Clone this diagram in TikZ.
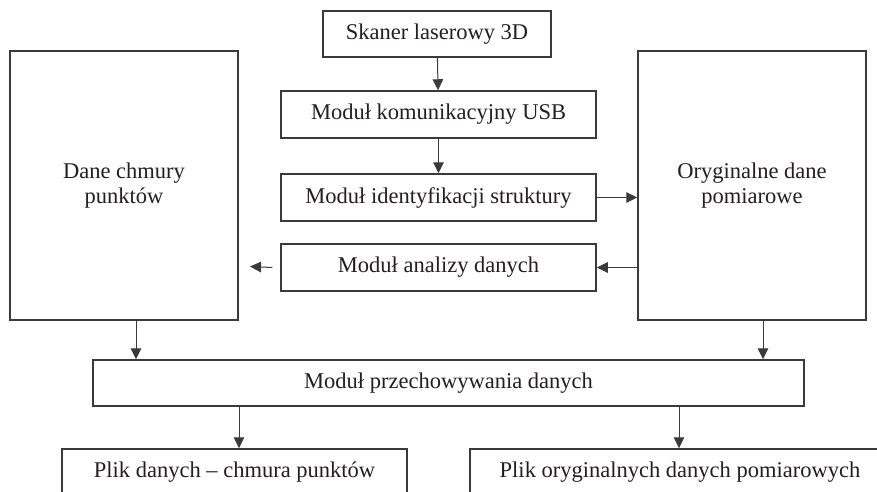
\documentclass[tikz,border=0pt]{standalone}
\usepackage{fontspec}
\setmainfont{Liberation Serif}
\usepackage{tikz}
\usetikzlibrary{arrows.meta}

\definecolor{linia}{HTML}{3A3A3A}
\definecolor{tekst}{HTML}{231F20}

\begin{document}
\begin{tikzpicture}[x=1pt, y=-1pt,
    blok/.style={draw=linia, line width=1.5pt, rectangle, inner sep=0pt,
      text=tekst, font=\fontsize{22.5}{25}\selectfont, align=center},
    strz/.style={draw=linia, line width=1pt, -{Triangle[length=11pt,width=10.5pt]}}]
                \clip (0,0) rectangle (877,491);
                \fill[white] (0,0) rectangle (877,491);
                % moduly srodkowe
                \node[blok, minimum width=228pt, minimum height=46pt] (skaner) at (437,34) {Skaner laserowy 3D};
                \node[blok, minimum width=315pt, minimum height=47pt] (usb) at (438.5,114.5) {Moduł komunikacyjny USB};
                \node[blok, minimum width=315pt, minimum height=47pt] (ident) at (438.5,197.5) {Moduł identyfikacji struktury};
                \node[blok, minimum width=315pt, minimum height=47pt] (analiza) at (438.5,267.5) {Moduł analizy danych};
                % dane
                \node[blok, minimum width=228pt, minimum height=269pt] (dane) at (124,185.5) {Dane chmury\\punktów};
                \node[blok, minimum width=228pt, minimum height=269pt] (orgdane) at (752,185.5) {Oryginalne dane\\pomiarowe};
                \node[blok, minimum width=711pt, minimum height=46pt] (przech) at (448.5,383) {Moduł przechowywania danych};
                \node[blok, minimum width=345pt, minimum height=47pt] (plik1) at (234.5,472.5) {Plik danych -- chmura punktów};
                \node[blok, minimum width=420pt, minimum height=47pt] (plik2) at (680,472.5) {Plik oryginalnych danych pomiarowych};
                \coordinate (lewo) at (250,266.5);
                % polaczenia
                \draw[strz] (skaner) -- (usb);
                \draw[strz] (usb) -- (ident);
                \draw[strz] (ident.east) -- (ident.east -| orgdane.west);
                \draw[strz] (analiza.east -| orgdane.west) -- (analiza.east);
                \draw[strz] ([xshift=-8pt]analiza.west) -- (lewo);
                \draw[strz] ([xshift=12pt]dane.south) -- ([xshift=12pt]dane.south |- przech.north);
                \draw[strz] ([xshift=11pt]orgdane.south) -- ([xshift=11pt]orgdane.south |- przech.north);
                \draw[strz] (przech.south -| 239,0) -- (plik1.north -| 239,0);
                \draw[strz] (przech.south -| 679,0) -- (plik2.north -| 679,0);
            \end{tikzpicture}
\end{document}
